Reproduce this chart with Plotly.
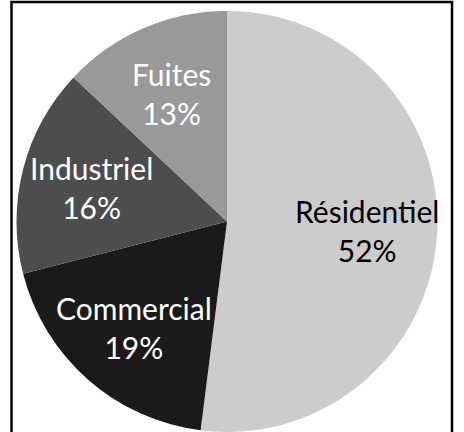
import math
import plotly.graph_objects as go

labels = ["Résidentiel", "Commercial", "Industriel", "Fuites"]
values = [52, 19, 16, 13]
colors = ["#cccccc", "#1a1a1a", "#4d4d4d", "#999999"]
text_colors = ["#000000", "#ffffff", "#ffffff", "#ffffff"]

W, H = 464, 432
CX, CY, R = 227, 222, 210.5   # pie centre / radius in pixels (top-left origin)
LABEL_R = 0.665               # labels sit at ~2/3 of the radius

fig = go.Figure(go.Pie(
    labels=labels,
    values=values,
    sort=False,
    direction="clockwise",
    rotation=0,
    marker=dict(colors=colors, line=dict(width=0)),
    textinfo="none",
    domain=dict(x=[(CX - R) / W, (CX + R) / W], y=[0, 2 * R / H]),
    showlegend=False,
    hoverinfo="skip",
))

# data labels, placed along each slice's mid-angle
total = sum(values)
cum = 0
annotations = []
for lab, val, col in zip(labels, values, text_colors):
    mid = (cum + val / 2) / total * 2 * math.pi
    cum += val
    px = CX + LABEL_R * R * math.sin(mid)
    py = CY - LABEL_R * R * math.cos(mid)
    annotations.append(dict(
        xref="paper", yref="paper", x=px / W, y=1 - py / H,
        xanchor="center", yanchor="middle", showarrow=False,
        text=f"{lab}<br>{round(val / total * 100)}%",
        font=dict(family="Lato", size=30, color=col),
    ))
fig.update_layout(annotations=annotations)

# black frame around the chart area
fig.add_shape(type="rect", xref="paper", yref="paper",
              x0=11.5 / W, x1=452 / W, y0=-0.05, y1=1 - 2 / H,
              line=dict(color="black", width=2.5))

fig.update_layout(
    width=W, height=H,
    margin=dict(l=0, r=0, t=0, b=0),
    paper_bgcolor="white",
    plot_bgcolor="white",
)

fig.write_html("out.html", config={"displayModeBar": False},
               post_script="document.body.style.margin='0';")
